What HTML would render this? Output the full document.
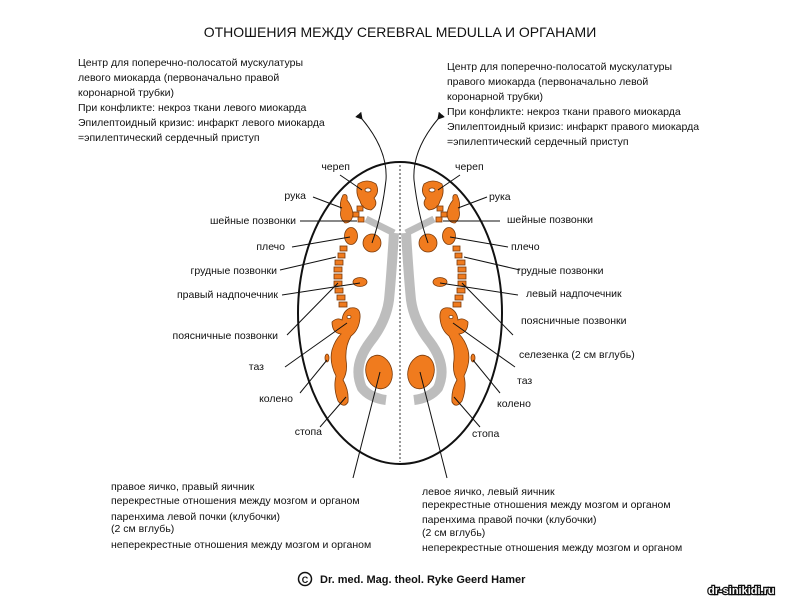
<!DOCTYPE html>
<html><head><meta charset="utf-8"><style>
html,body{margin:0;padding:0;background:#fff;width:800px;height:600px;overflow:hidden}
svg text{font-family:"Liberation Sans","DejaVu Sans",sans-serif;font-size:10.5px;fill:#111}
</style></head><body>
<svg width="800" height="600" viewBox="0 0 800 600" xmlns="http://www.w3.org/2000/svg">
<defs>
<marker id="ah" markerWidth="8" markerHeight="8" refX="6" refY="4" orient="auto" markerUnits="userSpaceOnUse">
<path d="M0,0 L7,4 L0,8 Z" fill="#111"/></marker>
<g id="org">
 <!-- gray -->
 <path d="M366,219 L394,233" fill="none" stroke="#bdbdbd" stroke-width="7"/>
 <path d="M394,233 Q391,280 389,300 Q386,322 370,342 Q352,366 362,388 Q370,398 386,400" fill="none" stroke="#bdbdbd" stroke-width="10" stroke-linejoin="round"/>
 <g fill="#f07b1e" stroke="#7a3a0a" stroke-width="0.8">
  <!-- skull -->
  <path d="M358,184 Q367,178 376,184 Q380,192 374,198 Q379,205 371,210 Q362,209 360,201 Q355,193 358,184 Z"/>
  <ellipse cx="368" cy="190" rx="3" ry="2" fill="#fff"/>
  <!-- arm -->
  <path d="M343,195 Q348,193 347,200 Q352,206 353,214 Q352,223 345,223 Q339,218 341,210 Q339,203 343,195Z"/>
  <rect x="353" y="212" width="6" height="5"/><rect x="357" y="206" width="6" height="5"/><rect x="358" y="217" width="6" height="5"/>
  <!-- shoulder -->
  <ellipse cx="351" cy="236" rx="6.5" ry="8.5"/>
  <!-- vertebrae -->
  <rect x="340" y="246" width="7" height="5"/><rect x="338" y="253" width="7" height="5"/>
  <rect x="335" y="260" width="8" height="5"/><rect x="334" y="267" width="8" height="5"/>
  <rect x="334" y="274" width="8" height="5"/><rect x="334" y="281" width="8" height="5"/>
  <rect x="335" y="288" width="8" height="5"/><rect x="337" y="295" width="8" height="5"/>
  <rect x="339" y="302" width="8" height="5"/>
  <!-- adrenal -->
  <ellipse cx="360" cy="282" rx="7" ry="4.5"/>
  <!-- circle -->
  <circle cx="372" cy="243" r="9"/>
  <!-- lumbar/leg -->
  <path d="M350,308 Q361,306 360,318 Q359,330 351,336 Q345,346 346,360 Q348,372 343,380 Q349,390 348,402 Q344,409 338,401 Q333,388 336,376 Q329,362 332,350 Q335,340 341,334 Q332,333 332,322 Q337,317 342,320 Q343,311 350,308Z"/>
  <ellipse cx="349" cy="317" rx="2" ry="1.6" fill="#fff"/>
  <ellipse cx="327" cy="358" rx="2" ry="4"/>
  <!-- bottom oval -->
  <ellipse cx="379" cy="372" rx="13" ry="17" transform="rotate(-15 379 372)"/>
 </g>
 <g stroke="#111" stroke-width="1" fill="none">
  <path d="M362,119 Q388,150 386,180 Q382,215 372,243" marker-start="url(#ah)"/>
  <path d="M380,372 L353,478"/>
  <path d="M340,175 L362,190"/><path d="M313,197 L342,208"/><path d="M300,221 L357,221"/>
  <path d="M292,247 L350,237"/><path d="M280,270 L336,257"/><path d="M282,295 L360,283"/>
  <path d="M287,335 L338,283"/><path d="M285,367 L347,323"/><path d="M300,393 L327,360"/>
  <path d="M320,427 L346,397"/>
 </g>
</g>
</defs>
<text x="400" y="37" text-anchor="middle" style="font-size:14px">ОТНОШЕНИЯ МЕЖДУ CEREBRAL MEDULLA И ОРГАНАМИ</text>
<g>
<text x="78" y="66">Центр для поперечно-полосатой мускулатуры</text>
<text x="78" y="81">левого миокарда (первоначально правой</text>
<text x="78" y="96">коронарной трубки)</text>
<text x="78" y="111">При конфликте: некроз ткани левого миокарда</text>
<text x="78" y="126">Эпилептоидный кризис: инфаркт левого миокарда</text>
<text x="78" y="141">=эпилептический сердечный приступ</text>
<text x="447" y="70">Центр для поперечно-полосатой мускулатуры</text>
<text x="447" y="85">правого миокарда (первоначально левой</text>
<text x="447" y="100">коронарной трубки)</text>
<text x="447" y="115">При конфликте: некроз ткани правого миокарда</text>
<text x="447" y="130">Эпилептоидный кризис: инфаркт правого миокарда</text>
<text x="447" y="145">=эпилептический сердечный приступ</text>
</g>
<ellipse cx="400" cy="313" rx="102" ry="151" fill="none" stroke="#111" stroke-width="2"/>
<line x1="400" y1="165" x2="400" y2="462" stroke="#333" stroke-width="1" stroke-dasharray="2,2"/>
<use href="#org"/>
<use href="#org" transform="translate(800,0) scale(-1,1)"/>
<g text-anchor="end">
<text x="350" y="170">череп</text><text x="306" y="199">рука</text>
<text x="296" y="224">шейные позвонки</text><text x="285" y="250">плечо</text>
<text x="277" y="274">грудные позвонки</text><text x="278" y="298">правый надпочечник</text>
<text x="278" y="339">поясничные позвонки</text><text x="264" y="370">таз</text>
<text x="293" y="402">колено</text><text x="322" y="435">стопа</text>
</g>
<text x="455" y="170">череп</text><text x="489" y="200">рука</text>
<text x="507" y="223">шейные позвонки</text><text x="511" y="250">плечо</text>
<text x="517" y="274">грудные позвонки</text><text x="526" y="297">левый надпочечник</text>
<text x="521" y="324">поясничные позвонки</text><text x="519" y="358">селезенка (2 см вглубь)</text>
<text x="517" y="384">таз</text><text x="497" y="407">колено</text><text x="472" y="437">стопа</text>
<text x="111" y="490">правое яичко, правый яичник</text>
<text x="111" y="504">перекрестные отношения между мозгом и органом</text>
<text x="111" y="520">паренхима левой почки (клубочки)</text>
<text x="111" y="532">(2 см вглубь)</text>
<text x="111" y="548">неперекрестные отношения между мозгом и органом</text>
<text x="422" y="495">левое яичко, левый яичник</text>
<text x="422" y="508">перекрестные отношения между мозгом и органом</text>
<text x="422" y="523">паренхима правой почки (клубочки)</text>
<text x="422" y="536">(2 см вглубь)</text>
<text x="422" y="551">неперекрестные отношения между мозгом и органом</text>
<circle cx="305" cy="579" r="6.5" fill="none" stroke="#111" stroke-width="1.5"/>
<text x="305" y="583" text-anchor="middle" style="font-size:9px;font-weight:bold">C</text>
<text x="320" y="583" style="font-size:11px;font-weight:bold">Dr. med. Mag. theol. Ryke Geerd Hamer</text>
<text x="708" y="594" style="font-size:11px;font-weight:bold;fill:#fff;stroke:#111;stroke-width:2.5;paint-order:stroke">dr-sinikidi.ru</text>
</svg>
</body></html>
